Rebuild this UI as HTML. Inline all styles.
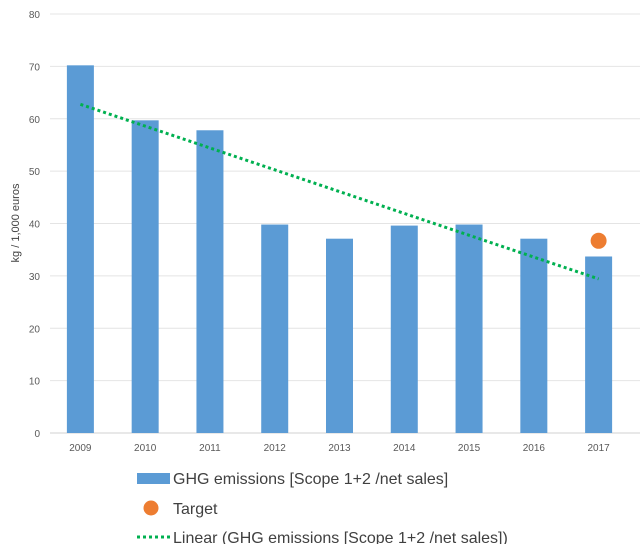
<!DOCTYPE html>
<html><head><meta charset="utf-8"><style>
body{margin:0;background:#fff;width:643px;height:544px;overflow:hidden}
svg{font-family:"Liberation Sans",sans-serif}
</style></head><body>
<svg id="c" width="643" height="544"></svg>
<script>
const years=["2009","2010","2011","2012","2013","2014","2015","2016","2017"];
const emissions=[70.2,59.7,57.8,39.8,37.1,39.6,39.8,37.1,33.7];
const target=36.7;
const targetIndex=8;
const yTicks=[0,10,20,30,40,50,60,70,80];
const NS="http://www.w3.org/2000/svg";
const svg=document.getElementById('c');
const x0=50,x1=640,yBase=433,yTop=14;
const y=v=>yBase-(v/80)*(yBase-yTop);
const step=(x1-x0-7)/years.length;
const xc=i=>x0+step*(i+0.5)-2;
function mk(t,a,p){const e=document.createElementNS(NS,t);for(const k in a)e.setAttribute(k,a[k]);(p||svg).appendChild(e);return e;}
yTicks.forEach(v=>{
 const g=mk('line',{x1:x0,x2:x1,y1:y(v),y2:y(v),stroke:v===0?'#d0d0d0':'#e4e4e4','stroke-width':1});
 
 
 const t=mk('text',{x:40,y:y(v)+4,'text-anchor':'end','font-size':10,fill:'#595959'});
 t.textContent=v;
 
 
});
const yt=mk('text',{transform:'translate(19,223) rotate(-90)','text-anchor':'middle','font-size':11,fill:'#404040'});
yt.textContent='kg / 1,000 euros';


emissions.forEach((v,i)=>{
 const r=mk('rect',{x:xc(i)-13.5,y:y(v),width:27,height:yBase-y(v),fill:'#5b9bd5'});
 
 
 const t=mk('text',{x:xc(i),y:451,'text-anchor':'middle','font-size':10,fill:'#595959'});
 t.textContent=years[i];
 
 
});
// linear trend (least squares)
const n=emissions.length,mx=(n-1)/2,my=emissions.reduce((a,b)=>a+b,0)/n;
let num=0,den=0;emissions.forEach((v,i)=>{num+=(i-mx)*(v-my);den+=(i-mx)*(i-mx);});
const slope=num/den,icpt=my-slope*mx;
const tl=mk('line',{x1:xc(0),y1:y(icpt),x2:xc(n-1),y2:y(icpt+slope*(n-1)),stroke:'#00b050','stroke-width':3,'stroke-dasharray':'3 3'});


const td=mk('circle',{cx:xc(targetIndex),cy:y(target),r:8,fill:'#ed7d31'});


</script>
<svg width="643" height="544" style="position:absolute;left:0;top:0">
<rect x="137" y="473" width="33" height="11" fill="#5b9bd5"/>
<text x="173" y="484" font-size="16" fill="#404040">GHG emissions [Scope 1+2 /net sales]</text>
<circle cx="151" cy="508" r="7.5" fill="#ed7d31"/>
<text x="173" y="514" font-size="16" fill="#404040">Target</text>
<line x1="137" y1="537" x2="170" y2="537" stroke="#00b050" stroke-width="3" stroke-dasharray="3 3"/>
<text x="173" y="543" font-size="16" fill="#404040">Linear (GHG emissions [Scope 1+2 /net sales])</text>
</svg>
</body></html>
